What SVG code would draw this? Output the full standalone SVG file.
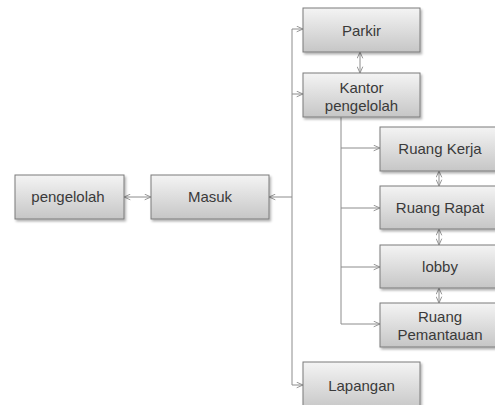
<svg xmlns="http://www.w3.org/2000/svg" width="495" height="405" viewBox="0 0 495 405">
<style>
.box{fill:url(#g);stroke:#7a7a7a;stroke-width:1;filter:url(#sh)}
.t{font-family:"Liberation Sans",Arial,sans-serif;font-size:15px;fill:#3a3a3a;text-anchor:middle}
.c{fill:none;stroke:#8c8c8c;stroke-width:1}
</style>
<defs>
<linearGradient id="g" x1="0" y1="0" x2="0" y2="1">
<stop offset="0" stop-color="#f4f4f4"/>
<stop offset="1" stop-color="#c6c6c6"/>
</linearGradient>
<filter id="sh" x="-10%" y="-10%" width="125%" height="135%">
<feDropShadow dx="1.5" dy="2" stdDeviation="1.2" flood-color="#000" flood-opacity="0.3"/>
</filter>
<marker id="a" viewBox="0 0 10 10" refX="10" refY="5" markerWidth="7" markerHeight="7" orient="auto-start-reverse" markerUnits="userSpaceOnUse">
<path d="M1,1 L10,5 L1,9" fill="none" stroke="#8c8c8c" stroke-width="1.3"/>
</marker>
</defs>
<rect width="495" height="405" fill="#fff"/>
<g id="connectors">
<line class="c" x1="124" y1="197" x2="151" y2="197" marker-start="url(#a)" marker-end="url(#a)"/>
<line class="c" x1="292" y1="197" x2="269" y2="197" marker-end="url(#a)"/>
<path class="c" d="M292,29 V385"/>
<line class="c" x1="292" y1="29" x2="303" y2="29" marker-end="url(#a)"/>
<line class="c" x1="292" y1="94" x2="303" y2="94" marker-end="url(#a)"/>
<line class="c" x1="292" y1="385" x2="303" y2="385" marker-end="url(#a)"/>
<line class="c" x1="360" y1="52" x2="360" y2="73" marker-start="url(#a)" marker-end="url(#a)"/>
<path class="c" d="M341,117 V324"/>
<line class="c" x1="341" y1="148" x2="380" y2="148" marker-end="url(#a)"/>
<line class="c" x1="341" y1="208" x2="380" y2="208" marker-end="url(#a)"/>
<line class="c" x1="341" y1="267" x2="380" y2="267" marker-end="url(#a)"/>
<line class="c" x1="341" y1="324" x2="380" y2="324" marker-end="url(#a)"/>
<line class="c" x1="439" y1="171" x2="439" y2="186" marker-start="url(#a)" marker-end="url(#a)"/>
<line class="c" x1="439" y1="229" x2="439" y2="245" marker-start="url(#a)" marker-end="url(#a)"/>
<line class="c" x1="439" y1="288" x2="439" y2="303" marker-start="url(#a)" marker-end="url(#a)"/>
</g>
<g id="pengelolah"><rect class="box" x="15" y="175" width="109" height="44"/><text class="t" x="68" y="202">pengelolah</text></g>
<g id="masuk"><rect class="box" x="151" y="175" width="118" height="44"/><text class="t" x="210" y="202">Masuk</text></g>
<g id="parkir"><rect class="box" x="303" y="8" width="117" height="44"/><text class="t" x="361.5" y="36">Parkir</text></g>
<g id="kantor"><rect class="box" x="303" y="73" width="117" height="44"/><text class="t" x="361.5" y="93">Kantor</text><text class="t" x="361.5" y="111">pengelolah</text></g>
<g id="ruang-kerja"><rect class="box" x="380" y="127" width="117" height="44"/><text class="t" x="440" y="154">Ruang Kerja</text></g>
<g id="ruang-rapat"><rect class="box" x="380" y="186" width="117" height="43"/><text class="t" x="440" y="213">Ruang Rapat</text></g>
<g id="lobby"><rect class="box" x="380" y="245" width="117" height="43"/><text class="t" x="440" y="272">lobby</text></g>
<g id="ruang-pemantauan"><rect class="box" x="380" y="303" width="117" height="44"/><text class="t" x="440" y="322">Ruang</text><text class="t" x="440" y="340">Pemantauan</text></g>
<g id="lapangan"><rect class="box" x="303" y="362" width="117" height="48"/><text class="t" x="361.5" y="391">Lapangan</text></g>
</svg>
